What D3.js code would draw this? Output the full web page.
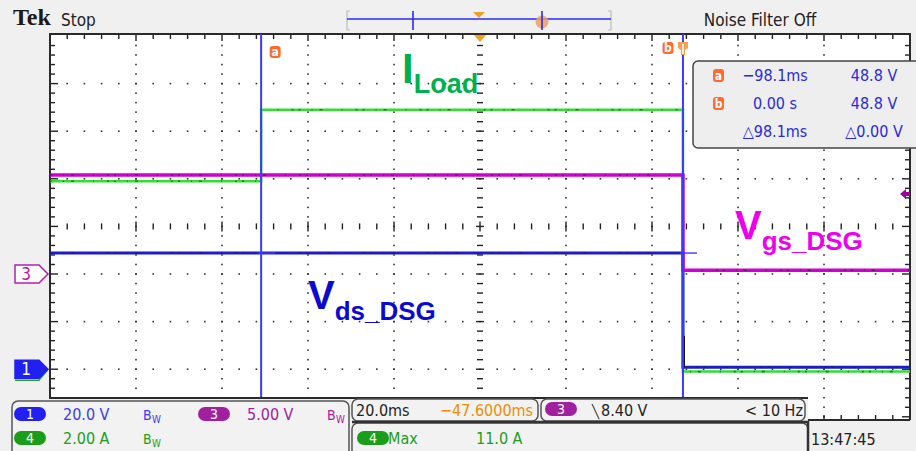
<!DOCTYPE html>
<html>
<head>
<meta charset="utf-8">
<script src="https://cdn.jsdelivr.net/npm/d3@7"></script>
<style>
  html, body { margin: 0; padding: 0; background: #f0f0f0; }
  svg { display: block; }
  .ui { font-family: "Liberation Sans Narrow", "DejaVu Sans Condensed", "Arial Narrow", sans-serif; }
  .ann { font-family: "Liberation Sans", Arial, sans-serif; font-weight: bold; }
</style>
</head>
<body>
<svg id="scope" width="916" height="451"></svg>
<script>
// ---- acquisition data (time in ms relative to trigger) ----
const ch1Time  = [-147.2, 0, 0, 52.8];
const ch1Volts = [48.8, 48.8, 0.8, 0.8];          // Vds_DSG, 20 V/div
const ch3Time  = [-147.2, 0, 0, 52.8];
const ch3Volts = [10.4, 10.4, 0.4, 0.4];          // Vgs_DSG, 5 V/div
const ch4Time  = [-147.2, -98.1, -98.1, 0, 0, 52.8];
const ch4Amps  = [7.9, 7.9, 10.9, 10.9, -0.1, -0.1]; // I_Load, 2 A/div

// vertical settings: scale per division and ground offset in divisions
const ch1Setup = { scale: 20, offset: -3 };
const ch3Setup = { scale: 5, offset: -1 };
const ch4Setup = { scale: 2, offset: -3 };

const cursorTimes = [-98.1, 0];
const cursorLabels = ["a", "b"];
const triggerLevel = 8.40;   // ch3

const cursorRows = [
  ["a", "\u221298.1ms", "48.8 V"],
  ["b", "0.00 s", "48.8 V"],
  ["", "\u25B398.1ms", "\u25B30.00 V"]
];

// ---- geometry ----
const W = 916, H = 451;
const plotL = 50, plotR = 910, plotT = 34, plotB = 398;
const divX = 86, divY = 47.6;
const gridTop = 36;

const svg = d3.select("#scope");

const x = d3.scaleLinear().domain([-147.2, 52.8]).range([plotL, plotR]);
const yDiv = d3.scaleLinear().domain([-4, 4]).range([gridTop + 8 * divY, gridTop]);
const yOf = setup => v => yDiv(v / setup.scale + setup.offset);

// background
svg.append("rect").attr("width", W).attr("height", H).attr("fill", "#f0f0f0");

// plot area (extends to y=420 on the right corner, below is covered by readouts)
svg.append("rect").attr("x", plotL - 1).attr("y", plotT).attr("width", plotR - plotL + 1)
  .attr("height", 420 - plotT).attr("fill", "#ffffff");

const grid = svg.append("g");
const centerX = x(-47.2), centerY = yDiv(0);

// dotted major graticule
for (let k = 1; k < 10; k++) {
  const gx = plotL + k * divX;
  if (k === 5) continue;
  for (let yy = gridTop + divY / 5; yy < 420; yy += divY / 5) {
    grid.append("rect").attr("x", gx - 0.8).attr("y", yy - 0.8).attr("width", 1.6).attr("height", 1.6).attr("fill", "#333");
  }
}
for (let j = 1; j < 8; j++) {
  const gy = gridTop + j * divY;
  if (j === 4) continue;
  for (let xx = plotL + divX / 5; xx < plotR - 1; xx += divX / 5) {
    grid.append("rect").attr("x", xx - 0.8).attr("y", gy - 0.8).attr("width", 1.6).attr("height", 1.6).attr("fill", "#333");
  }
}
// center crosshair with minor ticks
for (let i = 1, yy = gridTop + divY / 5; yy < 420; yy += divY / 5, i++) {
  const major = i % 5 === 0;
  grid.append("line").attr("x1", centerX - (major ? 4 : 3)).attr("x2", centerX + (major ? 4 : 3))
    .attr("y1", yy).attr("y2", yy).attr("stroke", "#222").attr("stroke-width", 1.4);
}
for (let i = 1, xx = plotL + divX / 5; xx < plotR - 1; xx += divX / 5, i++) {
  const major = i % 5 === 0;
  grid.append("line").attr("x1", xx).attr("x2", xx)
    .attr("y1", centerY - (major ? 5 : 3)).attr("y2", centerY + (major ? 5 : 3)).attr("stroke", "#222").attr("stroke-width", 1.4);
}
// border ticks
for (let i = 1, yy = gridTop + divY / 5; yy < 420; yy += divY / 5, i++) {
  const len = i % 5 === 0 ? 8 : 5;
  grid.append("line").attr("x1", plotL).attr("x2", plotL + len).attr("y1", yy).attr("y2", yy).attr("stroke", "#222").attr("stroke-width", 1.4);
  grid.append("line").attr("x1", plotR - len).attr("x2", plotR).attr("y1", yy).attr("y2", yy).attr("stroke", "#222").attr("stroke-width", 1.4);
}
for (let i = 1, xx = plotL + divX / 5; xx < plotR - 1; xx += divX / 5, i++) {
  const len = i % 5 === 0 ? 7 : 5;
  grid.append("line").attr("x1", xx).attr("x2", xx).attr("y1", plotT).attr("y2", plotT + len).attr("stroke", "#222").attr("stroke-width", 1.4);
}
// frame
svg.append("path").attr("d", `M${plotL},420 V${plotT} H${plotR} V420`)
  .attr("fill", "none").attr("stroke", "#2a2a2a").attr("stroke-width", 2);

// ---- traces ----
const traceLine = (t, v, setup) => d3.line()
  .x((d, i) => x(t[i])).y(d => yOf(setup)(d))(v);

function drawTrace(t, v, setup, color, width) {
  const d = traceLine(t, v, setup);
  svg.append("path").attr("d", d).attr("fill", "none").attr("stroke", color).attr("stroke-width", width);
  svg.append("path").attr("d", d).attr("fill", "none").attr("stroke", "#222")
    .attr("stroke-width", 1.6).attr("stroke-opacity", 0.55).attr("stroke-dasharray", "2,11,1,7,3,19,1,13,2,5");
}
drawTrace(ch4Time, ch4Amps, ch4Setup, "#2fe02f", 2.5);
drawTrace(ch1Time, ch1Volts, ch1Setup, "#1c1cc8", 3);
drawTrace(ch3Time, ch3Volts, ch3Setup, "#d000d0", 3.5);

// edge at the trigger on ch1
svg.append("line").attr("x1", x(0) + 1).attr("x2", x(0) + 1)
  .attr("y1", yOf(ch1Setup)(14)).attr("y2", yOf(ch1Setup)(0.8)).attr("stroke", "#111").attr("stroke-width", 2);

// ---- cursors ----
cursorTimes.forEach((t, i) => {
  svg.append("line").attr("x1", x(t)).attr("x2", x(t)).attr("y1", plotT).attr("y2", plotB)
    .attr("stroke", "#3a3aff").attr("stroke-width", 2);
  svg.append("line").attr("x1", x(t) - 3).attr("x2", x(t) + 14)
    .attr("y1", yOf(ch1Setup)(48.8)).attr("y2", yOf(ch1Setup)(48.8)).attr("stroke", "#3a3aff").attr("stroke-width", 1.4);
});
function cursorIcon(cx, cy, letter) {
  svg.append("rect").attr("x", cx - 5.5).attr("y", cy - 6).attr("width", 11).attr("height", 12).attr("rx", 3).attr("fill", "#ff6a30");
  svg.append("text").attr("class", "ui").attr("x", cx).attr("y", cy + 4).attr("text-anchor", "middle")
    .attr("font-size", 12).attr("font-weight", "bold").attr("fill", "#fff").text(letter);
}
cursorIcon(x(cursorTimes[0]) + 14, 52, cursorLabels[0]);
cursorIcon(x(cursorTimes[1]) - 15, 48, cursorLabels[1]);
// trigger position pin
svg.append("path").attr("d", `M${x(0) - 5},42 h10 v6 l-3,2 v5 h-4 v-5 l-3,-2 z`).attr("fill", "#f5a050");
svg.append("line").attr("x1", x(0)).attr("x2", x(0)).attr("y1", 44).attr("y2", 54).attr("stroke", "#fff").attr("stroke-width", 1.5);
// expansion point marker
svg.append("path").attr("d", `M${centerX - 6},35 h12 l-6,7 z`).attr("fill", "#f0a020");

// trigger level marker (ch3)
const trigY = yOf(ch3Setup)(triggerLevel);
svg.append("path").attr("d", `M${plotR - 10},${trigY} l6,-5 v3 h4 v4 h-4 v3 z`).attr("fill", "#a000a0");

// ---- cursor readout ----
const ro = svg.append("g").attr("class", "ui");
ro.append("rect").attr("x", 693).attr("y", 61).attr("width", 240).attr("height", 87).attr("rx", 5)
  .attr("fill", "#eeeeee").attr("stroke", "#444").attr("stroke-width", 1.5);
cursorRows.forEach((r, i) => {
  const yy = 81 + i * 28;
  if (r[0]) {
    ro.append("rect").attr("x", 713).attr("y", yy - 12).attr("width", 11).attr("height", 13).attr("rx", 3).attr("fill", "#ff6a30");
    ro.append("text").attr("x", 718.5).attr("y", yy - 1).attr("text-anchor", "middle").attr("font-size", 12)
      .attr("font-weight", "bold").attr("fill", "#fff").text(r[0]);
  }
  ro.append("text").attr("x", 775).attr("y", yy).attr("text-anchor", "middle").attr("font-size", 16).attr("fill", "#2a2ad8").text(r[1]);
  ro.append("text").attr("x", 874).attr("y", yy).attr("text-anchor", "middle").attr("font-size", 16).attr("fill", "#2a2ad8").text(r[2]);
});

// ---- channel ground markers ----
function groundMarker(yy, label, fill, stroke, textColor) {
  svg.append("path").attr("d", `M15,${yy - 9} h24 l9,9 l-9,9 h-24 z`)
    .attr("fill", fill).attr("stroke", stroke).attr("stroke-width", 1.5);
  svg.append("text").attr("class", "ui").attr("x", 26).attr("y", yy + 6).attr("text-anchor", "middle")
    .attr("font-size", 17).attr("fill", textColor).text(label);
}
const gnd1 = yOf(ch1Setup)(0), gnd3 = yOf(ch3Setup)(0), gnd4 = yOf(ch4Setup)(0);
svg.append("path").attr("d", `M15,${gnd4 + 11} h24 l9,-11`).attr("fill", "none").attr("stroke", "#2aa02a").attr("stroke-width", 1.5);
groundMarker(gnd1, "1", "#2020f0", "#2020f0", "#fff");
groundMarker(gnd3, "3", "#fff", "#b020b0", "#b020b0");

// ---- annotations ----
const ann = svg.append("g").attr("class", "ann");
function label(xx, yy, main, sub, color, big, small, dy) {
  const t = ann.append("text").attr("x", xx).attr("y", yy).attr("fill", color);
  t.append("tspan").attr("font-size", big).text(main);
  t.append("tspan").attr("font-size", small).attr("dy", dy).text(sub);
}
label(402, 83, "I", "Load", "#00b050", 42, 27, 10);
label(308, 309, "V", "ds_DSG", "#0a0ad0", 40, 26, 11);
label(735, 239, "V", "gs_DSG", "#ee00ee", 40, 26, 11);

// ---- top status bar ----
const statusBar = svg.append("g");
statusBar.append("text").attr("x", 13).attr("y", 25).attr("font-family", "'Liberation Serif', 'DejaVu Serif', serif")
  .attr("font-weight", "bold").attr("font-size", 24).attr("fill", "#1a1a1a").text("Tek");
statusBar.append("text").attr("class", "ui").attr("x", 61).attr("y", 26).attr("font-size", 17).attr("fill", "#222").text("Stop");
statusBar.append("text").attr("class", "ui").attr("x", 760).attr("y", 26).attr("text-anchor", "middle").attr("font-size", 17).attr("fill", "#222").text("Noise Filter Off");
// record view
statusBar.append("path").attr("d", "M350,11 h-3 v19 h3 M608,11 h3 v19 h-3").attr("fill", "none").attr("stroke", "#bbb").attr("stroke-width", 1.2);
statusBar.append("line").attr("x1", 347).attr("x2", 611).attr("y1", 19).attr("y2", 19).attr("stroke", "#2a2aff").attr("stroke-width", 1.4);
statusBar.append("line").attr("x1", 413).attr("x2", 413).attr("y1", 11).attr("y2", 30).attr("stroke", "#2a2aff").attr("stroke-width", 1.6);
statusBar.append("circle").attr("cx", 542).attr("cy", 22).attr("r", 6.5).attr("fill", "#f0a060").attr("opacity", 0.85);
statusBar.append("line").attr("x1", 542).attr("x2", 542).attr("y1", 11).attr("y2", 30).attr("stroke", "#2a2aff").attr("stroke-width", 1.6);
statusBar.append("path").attr("d", "M473,12 h12 l-6,6 z").attr("fill", "#f0a020");

// ---- bottom readouts ----
const bot = svg.append("g").attr("class", "ui");
bot.append("rect").attr("x", 0).attr("y", plotB + 1).attr("width", 808).attr("height", H - plotB).attr("fill", "#f0f0f0");
bot.append("line").attr("x1", plotL - 1).attr("x2", 808).attr("y1", plotB).attr("y2", plotB).attr("stroke", "#2a2a2a").attr("stroke-width", 2);
// bottom border ticks (visible on the right)
for (let i = 1, xx = plotL + divX / 5; xx < plotR - 1; xx += divX / 5, i++) {
  if (xx < 810) continue;
  bot.append("line").attr("x1", xx).attr("x2", xx).attr("y1", 420).attr("y2", 415).attr("stroke", "#222").attr("stroke-width", 1.4);
}
bot.append("line").attr("x1", 808).attr("x2", plotR).attr("y1", 420).attr("y2", 420).attr("stroke", "#2a2a2a").attr("stroke-width", 2);
bot.append("rect").attr("x", 808).attr("y", 421).attr("width", 108).attr("height", 30).attr("fill", "#f0f0f0");

function box(x0, y0, w, h) {
  bot.append("rect").attr("x", x0).attr("y", y0).attr("width", w).attr("height", h).attr("rx", 6)
    .attr("fill", "#f2f2f2").attr("stroke", "#555").attr("stroke-width", 1.5);
}
function pill(x0, yc, label, fill) {
  bot.append("rect").attr("x", x0).attr("y", yc - 7).attr("width", 32).attr("height", 14).attr("rx", 7).attr("fill", fill);
  bot.append("text").attr("x", x0 + 16).attr("y", yc + 5).attr("text-anchor", "middle").attr("font-size", 14).attr("fill", "#fff").text(label);
}
function txt(x0, yy, s, color, size, anchor) {
  return bot.append("text").attr("x", x0).attr("y", yy).attr("font-size", size || 16).attr("fill", color)
    .attr("text-anchor", anchor || "start").text(s);
}
box(12, 401, 337, 60);
pill(14, 414, "1", "#2020f0");
txt(63, 420, "20.0 V", "#3a3af0");
txt(143, 420, "B", "#3a3af0", 14); txt(152, 423, "W", "#3a3af0", 10);
pill(198, 414, "3", "#a020a0");
txt(247, 420, "5.00 V", "#a020a0");
txt(327, 420, "B", "#a020a0", 14); txt(336, 423, "W", "#a020a0", 10);
pill(14, 438, "4", "#1a9e1a");
txt(63, 444, "2.00 A", "#1aa01a");
txt(143, 444, "B", "#1aa01a", 14); txt(152, 447, "W", "#1aa01a", 10);

box(352, 399, 186, 22);
txt(356, 416, "20.0ms", "#222");
txt(440, 416, "\u221247.6000ms", "#f08c00");
box(541, 399, 264, 22);
pill(545, 409, "3", "#a020a0");
txt(592, 416, "\u2572", "#222", 13); txt(601, 416, "8.40 V", "#222");
txt(803, 416, "< 10 Hz", "#222", 16, "end");
box(352, 423, 456, 40);
bot.append("line").attr("x1", 352).attr("x2", 808).attr("y1", 422).attr("y2", 422).attr("stroke", "#333").attr("stroke-width", 2.5);
pill(357, 438, "4", "#1a9e1a");
txt(388, 444, "Max", "#1aa01a");
txt(476, 444, "11.0 A", "#1aa01a");
bot.append("line").attr("x1", 808).attr("x2", 808).attr("y1", 421).attr("y2", 451).attr("stroke", "#333").attr("stroke-width", 2.5);
txt(811, 445, "13:47:45", "#222");
</script>
</body>
</html>
